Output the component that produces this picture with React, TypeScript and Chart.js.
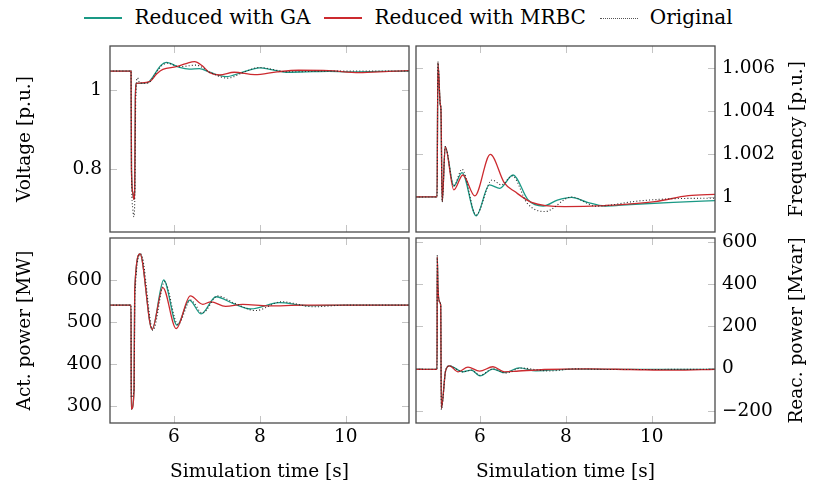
import React, { useEffect, useRef } from 'react';
import { Chart, registerables } from 'chart.js';

Chart.register(...registerables);

const FONT = '"DejaVu Serif", serif';
const FONT_SIZE = 18.5;
const LEGEND_FONT_SIZE = 20;
Chart.defaults.font.family = FONT;
Chart.defaults.font.size = FONT_SIZE;
Chart.defaults.color = '#000';

// ---------- Legend / series meta ----------
const SERIES_NAMES = ['Reduced with GA', 'Reduced with MRBC', 'Original'];
const SERIES_COLORS = ['#1a9985', '#cc2a2f', '#2a2a2a'];

// ---------- Axes ----------
const X_MIN = 4.51;
const X_MAX = 11.47;
const X_TICKS = [6, 8, 10];
const X_TITLE = 'Simulation time [s]';

const VOLT_TICKS = [0.8, 1];
const FREQ_TICKS = [1, 1.002, 1.004, 1.006];
const ACT_TICKS = [300, 400, 500, 600];
const REAC_TICKS = [-200, 0, 200, 400, 600];

// ---------- Voltage [p.u.] ----------
const VOLT_GA_T = [4.5, 5.0, 5.01, 5.04, 5.065, 5.085, 5.1, 5.125, 5.25, 5.39, 5.5, 5.585, 5.7, 5.82, 6.13, 6.36, 6.59, 6.83, 7.21, 7.6, 7.99, 8.3, 8.61, 9.07, 9.6, 10.08, 10.8, 11.5];
const VOLT_GA = [1.048, 1.048, 0.8, 0.74, 0.724, 0.75, 0.98, 1.017, 1.017, 1.019, 1.032, 1.046, 1.063, 1.07, 1.057, 1.053, 1.054, 1.045, 1.034, 1.045, 1.056, 1.051, 1.045, 1.046, 1.047, 1.046, 1.047, 1.048];
const VOLT_MRBC_T = [4.5, 5.0, 5.01, 5.04, 5.065, 5.085, 5.1, 5.125, 5.25, 5.43, 5.6, 5.74, 6.05, 6.28, 6.48, 6.65, 6.83, 7.06, 7.4, 7.88, 8.4, 8.9, 9.6, 10.31, 11.0, 11.5];
const VOLT_MRBC = [1.048, 1.048, 0.8, 0.74, 0.723, 0.75, 0.98, 1.017, 1.018, 1.021, 1.041, 1.052, 1.059, 1.067, 1.072, 1.062, 1.044, 1.038, 1.045, 1.039, 1.046, 1.05, 1.049, 1.044, 1.047, 1.049];
const VOLT_ORIG_T = [4.5, 5.0, 5.01, 5.04, 5.07, 5.09, 5.11, 5.15, 5.2, 5.3, 5.42, 5.5, 5.6, 5.72, 5.84, 6.13, 6.52, 6.83, 7.25, 7.6, 7.99, 8.3, 8.61, 9.2, 10.0, 11.5];
const VOLT_ORIG = [1.048, 1.048, 0.8, 0.7, 0.679, 0.75, 0.98, 1.031, 1.018, 1.017, 1.019, 1.03, 1.046, 1.062, 1.068, 1.059, 1.063, 1.045, 1.03, 1.044, 1.057, 1.052, 1.046, 1.047, 1.048, 1.048];

// ---------- Frequency [p.u.] ----------
const FREQ_GA_T = [4.5, 5.0, 5.02, 5.075, 5.09, 5.12, 5.19, 5.39, 5.58, 5.91, 6.22, 6.46, 6.77, 7.12, 7.47, 7.8, 8.13, 8.5, 8.9, 9.5, 10.5, 11.5];
const FREQ_GA = [1.0, 1.0, 1.00625, 1.0043, 1.0041, 0.99978, 1.00234, 1.00051, 1.00113, 0.99912, 1.00056, 1.0004, 1.00102, 0.99986, 0.99958, 0.99985, 0.99998, 0.99975, 0.99958, 0.99965, 0.99975, 0.99983];
const FREQ_MRBC_T = [4.5, 5.0, 5.02, 5.075, 5.09, 5.12, 5.19, 5.39, 5.6, 5.88, 6.24, 6.57, 6.81, 7.2, 7.97, 8.9, 10.07, 10.85, 11.5];
const FREQ_MRBC = [1.0, 1.0, 1.00625, 1.0043, 1.0041, 0.99978, 1.00234, 1.00033, 1.00102, 1.00005, 1.00198, 1.00064, 1.00025, 0.99975, 0.99955, 0.9996, 0.99978, 1.00006, 1.00012];
const FREQ_ORIG_T = [4.5, 5.0, 5.02, 5.075, 5.09, 5.12, 5.19, 5.39, 5.58, 5.91, 6.28, 6.5, 6.75, 7.1, 7.51, 8.13, 8.7, 9.68, 10.5, 11.5];
const FREQ_ORIG = [1.0, 1.0, 1.0063, 1.0043, 1.0041, 0.99978, 1.00234, 1.00051, 1.00129, 0.99916, 1.00079, 1.00056, 1.00098, 0.9997, 0.99932, 1.0, 0.99957, 0.99981, 0.99992, 0.99994];

// ---------- Active power [MW] ----------
const ACT_GA_T = [4.5, 5.0, 5.005, 5.07, 5.085, 5.21, 5.49, 5.76, 6.07, 6.36, 6.63, 6.98, 7.37, 7.79, 8.45, 9.1, 10.0, 11.5];
const ACT_GA = [540, 540, 291, 337, 575, 662, 482, 600, 492, 552, 519, 560, 544, 531, 546, 539, 540, 540];
const ACT_MRBC_T = [4.5, 5.0, 5.005, 5.07, 5.085, 5.21, 5.49, 5.74, 6.05, 6.38, 6.67, 6.86, 7.2, 7.6, 8.2, 9.0, 11.5];
const ACT_MRBC = [540, 540, 291, 337, 575, 662, 482, 582, 484, 562, 542, 548, 537, 542, 538, 540, 540];
const ACT_ORIG_T = [4.5, 5.0, 5.005, 5.07, 5.09, 5.23, 5.51, 5.78, 6.09, 6.39, 6.66, 7.02, 7.4, 7.9, 8.5, 9.25, 10.0, 11.5];
const ACT_ORIG = [540, 540, 320, 340, 560, 662, 480, 596, 494, 552, 521, 562, 545, 527, 548, 536, 540, 540];

// ---------- Reactive power [Mvar] ----------
const REAC_GA_T = [4.5, 5.0, 5.005, 5.02, 5.06, 5.085, 5.1, 5.2, 5.29, 5.6, 5.8, 6.0, 6.3, 6.57, 6.92, 7.3, 8.2, 9.0, 11.5];
const REAC_GA = [-4, -4, 528, 390, 315, 300, -190, -10, 12, -16, -8, -35, -3, -20, 3, -11, -3, -4, -4];
const REAC_MRBC_T = [4.5, 5.0, 5.005, 5.02, 5.06, 5.085, 5.1, 5.2, 5.29, 5.49, 5.72, 5.99, 6.3, 6.57, 6.9, 7.5, 8.5, 9.5, 10.5, 11.5];
const REAC_MRBC = [-4, -4, 528, 390, 315, 300, -190, -10, 12, -16, 6, -13, 8, -16, -12, -5, -2, -5, -8, -4];
const REAC_ORIG_T = [4.5, 5.0, 5.005, 5.02, 5.06, 5.085, 5.1, 5.2, 5.29, 5.6, 5.8, 6.0, 6.3, 6.6, 6.95, 7.6, 8.2, 9.0, 11.5];
const REAC_ORIG = [-4, -4, 540, 390, 315, 300, -195, -10, 12, -16, -8, -33, -2, -22, 2, -12, -2, -5, -4];

type Series = { t: number[]; v: number[] };

const framePlugin = {
  id: 'pgfFrame',
  beforeDatasetsDraw(chart: any) {
    const { ctx, chartArea, scales } = chart;
    const { left, right, top, bottom } = chartArea;
    const L = 7;
    ctx.save();
    ctx.strokeStyle = '#c4c4c4';
    ctx.lineWidth = 1;
    ctx.beginPath();
    scales.x.ticks.forEach((tk: any) => {
      const px = Math.round(scales.x.getPixelForValue(tk.value)) + 0.5;
      ctx.moveTo(px, bottom);
      ctx.lineTo(px, bottom - L);
      ctx.moveTo(px, top);
      ctx.lineTo(px, top + L);
    });
    scales.y.ticks.forEach((tk: any) => {
      const py = Math.round(scales.y.getPixelForValue(tk.value)) + 0.5;
      ctx.moveTo(left, py);
      ctx.lineTo(left + L, py);
      ctx.moveTo(right, py);
      ctx.lineTo(right - L, py);
    });
    ctx.stroke();
    ctx.restore();
  },
  afterDatasetsDraw(chart: any) {
    const { ctx, chartArea } = chart;
    const { left, right, top, bottom } = chartArea;
    ctx.save();
    ctx.strokeStyle = '#4a4a4a';
    ctx.lineWidth = 1.3;
    ctx.strokeRect(left, top, right - left, bottom - top);
    ctx.restore();
  },
  afterDraw(chart: any) {
    const opts = chart.options.plugins.pgfFrame || {};
    if (!opts.rightTitle) return;
    const { ctx, chartArea } = chart;
    ctx.save();
    ctx.translate(opts.rightTitleX, (chartArea.top + chartArea.bottom) / 2);
    ctx.rotate(-Math.PI / 2);
    ctx.font = `${FONT_SIZE}px ${FONT}`;
    ctx.fillStyle = '#000';
    ctx.textAlign = 'center';
    ctx.textBaseline = 'middle';
    ctx.fillText(opts.rightTitle, 0, 0);
    ctx.restore();
  },
};

interface PanelProps {
  left: number;
  top: number;
  width: number;
  height: number;
  padding: { top: number; right: number; bottom: number; left: number };
  yPos: 'left' | 'right';
  yWidth: number;
  yMin: number;
  yMax: number;
  yTicks: number[];
  yTitle: string;
  showX: boolean;
  xHeight: number;
  series: Series[];
}

function Panel(p: PanelProps) {
  const ref = useRef<HTMLCanvasElement | null>(null);
  useEffect(() => {
    if (!ref.current) return;
    const isLeft = p.yPos === 'left';
    const chart = new Chart(ref.current, {
      type: 'line',
      data: {
        datasets: p.series.map((s, i) => ({
          label: SERIES_NAMES[i],
          data: s.t.map((t, k) => ({ x: t, y: s.v[k] })),
          borderColor: SERIES_COLORS[i],
          borderWidth: i === 2 ? 1.1 : 1.3,
          borderDash: i === 2 ? [1, 2.2] : [],
          pointRadius: 0,
          fill: false,
          cubicInterpolationMode: 'monotone' as const,
          order: 3 - i,
        })),
      },
      options: {
        animation: false,
        responsive: false,
        events: [],
        layout: { padding: p.padding },
        plugins: {
          legend: { display: false },
          tooltip: { enabled: false },
          pgfFrame: isLeft ? {} : { rightTitle: p.yTitle, rightTitleX: p.width - 16 },
        },
        scales: {
          x: {
            type: 'linear',
            min: X_MIN,
            max: X_MAX,
            afterBuildTicks: (s: any) => {
              s.ticks = X_TICKS.map((v) => ({ value: v }));
            },
            grid: { display: false, drawTicks: false },
            border: { display: false },
            ticks: { display: p.showX, padding: 3, maxRotation: 0, autoSkip: false, callback: (v: any) => String(v) },
            title: { display: p.showX, text: X_TITLE, padding: { top: 0, bottom: 5 } },
            afterFit: (s: any) => {
              s.height = p.xHeight;
              s.paddingLeft = 0;
              s.paddingRight = 0;
              s.paddingTop = 0;
              s.paddingBottom = 0;
            },
          },
          y: {
            type: 'linear',
            position: p.yPos,
            min: p.yMin,
            max: p.yMax,
            afterBuildTicks: (s: any) => {
              s.ticks = p.yTicks.map((v) => ({ value: v }));
            },
            grid: { display: false, drawTicks: false },
            border: { display: false },
            ticks: {
              padding: isLeft ? 8 : 7,
              autoSkip: false,
              callback: (v: any) => String(v).replace('-', '\u2212'),
            },
            title: { display: isLeft, text: p.yTitle, padding: { top: 14, bottom: 0 } },
            afterFit: (s: any) => {
              s.width = p.yWidth;
              s.paddingLeft = 0;
              s.paddingRight = 0;
              s.paddingTop = 0;
              s.paddingBottom = 0;
            },
          },
        },
      } as any,
      plugins: [framePlugin],
    });
    return () => chart.destroy();
  }, []);
  return (
    <canvas
      ref={ref}
      width={p.width}
      height={p.height}
      style={{ position: 'absolute', left: p.left, top: p.top, width: p.width, height: p.height }}
    />
  );
}

function Legend() {
  return (
    <div
      style={{
        position: 'absolute',
        left: 0,
        top: 0,
        width: 813,
        height: 34,
        display: 'flex',
        alignItems: 'center',
        justifyContent: 'center',
        fontFamily: FONT,
        fontSize: LEGEND_FONT_SIZE,
        color: '#000',
        whiteSpace: 'nowrap',
        paddingLeft: 4,
        boxSizing: 'border-box',
      }}
    >
      {SERIES_NAMES.map((n, i) => (
        <div key={n} style={{ display: 'flex', alignItems: 'center', marginRight: i < 2 ? 14 : 0 }}>
          <div
            style={{
              width: 38,
              height: i === 2 ? 0 : 1.5,
              background: i === 2 ? 'transparent' : SERIES_COLORS[i],
              borderTop: i === 2 ? '1px dotted #555' : 'none',
              marginRight: 12,
              marginTop: 2,
            }}
          />
          <span>{n}</span>
        </div>
      ))}
    </div>
  );
}

export default function App() {
  const voltSeries: Series[] = [
    { t: VOLT_GA_T, v: VOLT_GA },
    { t: VOLT_MRBC_T, v: VOLT_MRBC },
    { t: VOLT_ORIG_T, v: VOLT_ORIG },
  ];
  const freqSeries: Series[] = [
    { t: FREQ_GA_T, v: FREQ_GA },
    { t: FREQ_MRBC_T, v: FREQ_MRBC },
    { t: FREQ_ORIG_T, v: FREQ_ORIG },
  ];
  const actSeries: Series[] = [
    { t: ACT_GA_T, v: ACT_GA },
    { t: ACT_MRBC_T, v: ACT_MRBC },
    { t: ACT_ORIG_T, v: ACT_ORIG },
  ];
  const reacSeries: Series[] = [
    { t: REAC_GA_T, v: REAC_GA },
    { t: REAC_MRBC_T, v: REAC_MRBC },
    { t: REAC_ORIG_T, v: REAC_ORIG },
  ];
  return (
    <div style={{ position: 'absolute', left: 0, top: 0, width: 813, height: 488, background: '#fff', overflow: 'hidden' }}>
      <Legend />
      <Panel
        left={0} top={34} width={410} height={201}
        padding={{ top: 12, right: 1, bottom: 3, left: 0 }}
        yPos="left" yWidth={110} yMin={0.6405} yMax={1.1114} yTicks={VOLT_TICKS} yTitle="Voltage [p.u.]"
        showX={false} xHeight={0} series={voltSeries}
      />
      <Panel
        left={403} top={34} width={410} height={201}
        padding={{ top: 12, right: 0, bottom: 3, left: 13 }}
        yPos="right" yWidth={98} yMin={0.99837} yMax={1.00702} yTicks={FREQ_TICKS} yTitle="Frequency [p.u.]"
        showX={false} xHeight={0} series={freqSeries}
      />
      <Panel
        left={0} top={226} width={410} height={262}
        padding={{ top: 12, right: 1, bottom: 0, left: 0 }}
        yPos="left" yWidth={110} yMin={258.7} yMax={700.2} yTicks={ACT_TICKS} yTitle="Act. power [MW]"
        showX={true} xHeight={65} series={actSeries}
      />
      <Panel
        left={403} top={226} width={410} height={262}
        padding={{ top: 12, right: 0, bottom: 0, left: 13 }}
        yPos="right" yWidth={98} yMin={-258.2} yMax={617.5} yTicks={REAC_TICKS} yTitle="Reac. power [Mvar]"
        showX={true} xHeight={65} series={reacSeries}
      />
    </div>
  );
}
